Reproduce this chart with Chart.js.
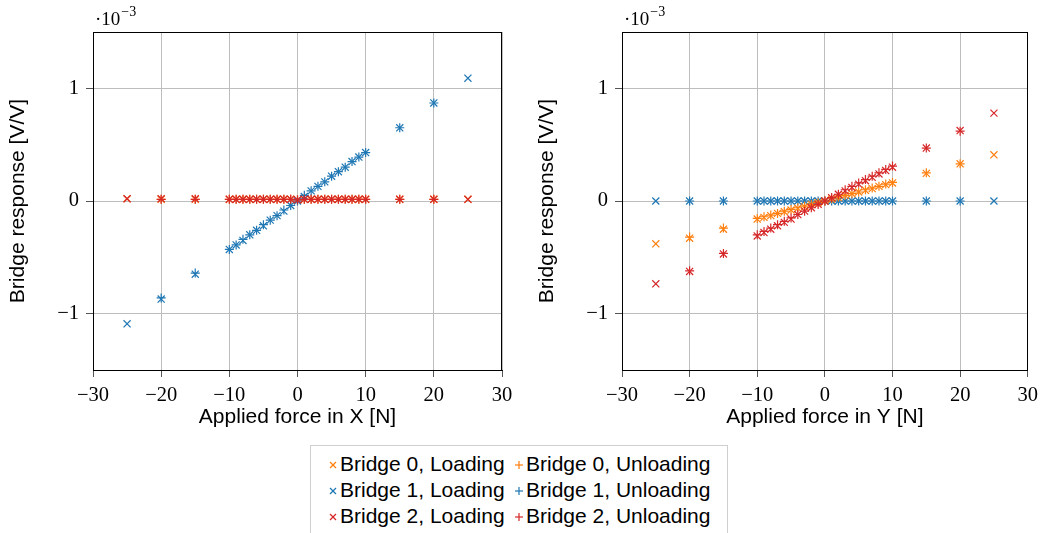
<!DOCTYPE html>
<html>
<head>
<meta charset="utf-8">
<script src="https://cdn.jsdelivr.net/npm/chart.js@4"></script>
<style>
  body { margin: 0; background: #fff; width: 1044px; height: 533px; overflow: hidden; position: relative; }
  canvas { position: absolute; top: 0; }
  #legend {
    position: absolute; left: 310px; top: 445px; width: 418px; height: 100px;
    border: 1px solid #cfcfcf; box-sizing: border-box;
    font: 21px "Liberation Sans", Arial, sans-serif; color: #000;
  }
  .item { position: absolute; white-space: nowrap; line-height: 26px; }
  .item svg { position: absolute; top: 10px; }
  .item span { position: absolute; top: 0; }
</style>
</head>
<body>
<canvas id="chartX" width="522" height="430" style="left:0"></canvas>
<canvas id="chartY" width="522" height="430" style="left:522px"></canvas>
<div id="legend"></div>
<script>
// forces [N]
const forceLoad = [-25, -20, -15, -10, -9, -8, -7, -6, -5, -4, -3, -2, -1, 0, 1, 2, 3, 4, 5, 6, 7, 8, 9, 10, 15, 20, 25];
const forceUnload = [-20, -15, -10, -9, -8, -7, -6, -5, -4, -3, -2, -1, 0, 1, 2, 3, 4, 5, 6, 7, 8, 9, 10, 15, 20];

// force in X, bridge response in 1e-3 V/V
const b0LoadX = [0.02, 0.015, 0.015, 0.015, 0.015, 0.015, 0.015, 0.015, 0.015, 0.015, 0.015, 0.015, 0.015, 0.01, 0.015, 0.015, 0.015, 0.015, 0.015, 0.015, 0.015, 0.015, 0.015, 0.015, 0.015, 0.015, 0.015];
const b0UnloadX = [0.015, 0.015, 0.015, 0.015, 0.015, 0.015, 0.015, 0.015, 0.015, 0.015, 0.015, 0.015, 0.01, 0.015, 0.015, 0.015, 0.015, 0.015, 0.015, 0.015, 0.015, 0.015, 0.015, 0.015, 0.015];
const b1LoadX = [-1.09, -0.87, -0.65, -0.43, -0.39, -0.35, -0.30, -0.26, -0.22, -0.17, -0.13, -0.09, -0.04, 0.0, 0.04, 0.09, 0.13, 0.17, 0.22, 0.26, 0.30, 0.35, 0.39, 0.43, 0.65, 0.87, 1.09];
const b1UnloadX = [-0.86, -0.64, -0.43, -0.39, -0.34, -0.30, -0.26, -0.21, -0.17, -0.13, -0.08, -0.04, 0.0, 0.05, 0.09, 0.13, 0.17, 0.22, 0.26, 0.30, 0.35, 0.39, 0.43, 0.65, 0.87];
const b2LoadX = [0.02, 0.02, 0.02, 0.015, 0.015, 0.015, 0.015, 0.015, 0.015, 0.015, 0.015, 0.015, 0.015, 0.01, 0.015, 0.015, 0.015, 0.015, 0.015, 0.015, 0.015, 0.015, 0.015, 0.015, 0.015, 0.015, 0.015];
const b2UnloadX = [0.015, 0.015, 0.015, 0.015, 0.015, 0.015, 0.015, 0.015, 0.015, 0.015, 0.015, 0.015, 0.01, 0.015, 0.015, 0.015, 0.015, 0.015, 0.015, 0.015, 0.015, 0.015, 0.015, 0.015, 0.015];

// force in Y
const b0LoadY = [-0.38, -0.33, -0.25, -0.16, -0.145, -0.13, -0.11, -0.095, -0.08, -0.065, -0.05, -0.03, -0.015, 0.0, 0.015, 0.03, 0.05, 0.065, 0.08, 0.095, 0.11, 0.13, 0.145, 0.16, 0.245, 0.33, 0.41];
const b0UnloadY = [-0.32, -0.24, -0.155, -0.14, -0.125, -0.11, -0.09, -0.075, -0.06, -0.045, -0.03, -0.015, 0.0, 0.02, 0.035, 0.05, 0.065, 0.08, 0.1, 0.115, 0.13, 0.15, 0.165, 0.25, 0.33];
const b1LoadY = [0.0, 0.0, 0.0, 0.0, 0.0, 0.0, 0.0, 0.0, 0.0, 0.0, 0.0, 0.0, 0.0, 0.0, 0.0, 0.0, 0.0, 0.0, 0.0, 0.0, 0.0, 0.0, 0.0, 0.0, 0.0, 0.0, 0.0];
const b1UnloadY = [0.0, 0.0, 0.0, 0.0, 0.0, 0.0, 0.0, 0.0, 0.0, 0.0, 0.0, 0.0, 0.0, 0.0, 0.0, 0.0, 0.0, 0.0, 0.0, 0.0, 0.0, 0.0, 0.0, 0.0, 0.0];
const b2LoadY = [-0.735, -0.625, -0.47, -0.31, -0.28, -0.25, -0.22, -0.19, -0.16, -0.12, -0.09, -0.06, -0.03, 0.0, 0.03, 0.06, 0.09, 0.12, 0.15, 0.18, 0.21, 0.24, 0.27, 0.30, 0.47, 0.625, 0.78];
const b2UnloadY = [-0.62, -0.465, -0.30, -0.27, -0.24, -0.21, -0.18, -0.15, -0.12, -0.09, -0.06, -0.03, 0.0, 0.03, 0.06, 0.1, 0.13, 0.16, 0.19, 0.22, 0.25, 0.28, 0.31, 0.47, 0.62];

const xTicks = [-30, -20, -10, 0, 10, 20, 30];
const yTicks = [-1, 0, 1];

const orange = "#ff7f0e", blue = "#1f77b4", red = "#d62728";

function pts(xs, ys) {
    return xs.map((x, i) => ({ x: x, y: ys[i] }));
}

function series(label, color, xs, ys, loading) {
    return {
        label: label,
        data: pts(xs, ys),
        borderColor: color,
        backgroundColor: color,
        pointStyle: loading ? "crossRot" : "cross",
        pointRadius: loading ? 5 : 4.5,
        pointBorderWidth: 1.2
    };
}

function minus(v) {
    return v < 0 ? "\u2212" + Math.abs(v) : String(v);
}

// frame round the plot + the "·10^-3" factor
const framePlugin = {
    id: "frame",
    afterDraw(chart) {
        const { ctx, chartArea: a } = chart;
        ctx.save();
        ctx.strokeStyle = "#000";
        ctx.lineWidth = 1;
        ctx.strokeRect(Math.round(a.left) + 0.5, Math.round(a.top) + 0.5, Math.round(a.width) - 1, Math.round(a.height));
        ctx.fillStyle = "#000";
        ctx.textBaseline = "alphabetic";
        ctx.font = '19px "Liberation Serif", serif';
        ctx.fillText("\u00b710", a.left + 2, 25);
        const w = ctx.measureText("\u00b710").width;
        ctx.font = '14px "Liberation Serif", serif';
        ctx.fillText("\u22123", a.left + 2 + w + 1, 16);
        ctx.restore();
    }
};

function createScatter(id, xTitle, datasets, padLeft, padRight) {
    const serif = { family: '"Liberation Serif", serif', size: 20.5 };
    const sans = { family: '"Liberation Sans", Arial, sans-serif', size: 21 };
    return new Chart(document.getElementById(id), {
        type: "scatter",
        data: { datasets: datasets },
        options: {
            responsive: false,
            animation: false,
            layout: { padding: { top: 32, left: padLeft, right: padRight, bottom: 0 } },
            plugins: { legend: { display: false }, tooltip: { enabled: false } },
            scales: {
                x: {
                    min: -30, max: 30,
                    afterBuildTicks: s => { s.ticks = xTicks.map(v => ({ value: v })); },
                    afterFit: s => { s.height = 60; },
                    grid: { color: "#bdbdbd", tickColor: "#555", tickLength: 7 },
                    border: { color: "#000" },
                    ticks: { font: serif, color: "#000", padding: 6, maxRotation: 0, callback: v => minus(v) },
                    title: { display: true, text: xTitle, font: sans, color: "#000", padding: 0 }
                },
                y: {
                    min: -1.5, max: 1.5,
                    afterBuildTicks: s => { s.ticks = yTicks.map(v => ({ value: v })); },
                    afterFit: s => { s.width = 87; },
                    grid: { color: "#bdbdbd", tickColor: "#555", tickLength: 7 },
                    border: { color: "#000" },
                    ticks: { font: serif, color: "#000", padding: 7, callback: v => minus(v) },
                    title: { display: true, text: "Bridge response [V/V]", font: sans, color: "#000", padding: 0 }
                }
            }
        },
        plugins: [framePlugin]
    });
}

// red drawn on top, so it goes first
createScatter("chartX", "Applied force in X [N]", [
    series("Bridge 2, Unloading", red, forceUnload, b2UnloadX, false),
    series("Bridge 2, Loading", red, forceLoad, b2LoadX, true),
    series("Bridge 1, Unloading", blue, forceUnload, b1UnloadX, false),
    series("Bridge 1, Loading", blue, forceLoad, b1LoadX, true),
    series("Bridge 0, Unloading", orange, forceUnload, b0UnloadX, false),
    series("Bridge 0, Loading", orange, forceLoad, b0LoadX, true)
], 6, 20);

createScatter("chartY", "Applied force in Y [N]", [
    series("Bridge 2, Unloading", red, forceUnload, b2UnloadY, false),
    series("Bridge 2, Loading", red, forceLoad, b2LoadY, true),
    series("Bridge 0, Unloading", orange, forceUnload, b0UnloadY, false),
    series("Bridge 0, Loading", orange, forceLoad, b0LoadY, true),
    series("Bridge 1, Unloading", blue, forceUnload, b1UnloadY, false),
    series("Bridge 1, Loading", blue, forceLoad, b1LoadY, true)
], 13, 13);

// legend, two columns
const legendItems = [
    ["Bridge 0, Loading", orange, true], ["Bridge 0, Unloading", orange, false],
    ["Bridge 1, Loading", blue, true], ["Bridge 1, Unloading", blue, false],
    ["Bridge 2, Loading", red, true], ["Bridge 2, Unloading", red, false]
];
const legend = document.getElementById("legend");
legendItems.forEach((it, i) => {
    const col = i % 2, row = Math.floor(i / 2);
    const d = document.createElement("div");
    d.className = "item";
    d.style.left = (col ? 204 : 18) + "px";
    d.style.top = (5 + row * 26) + "px";
    const mark = it[2]
        ? '<line x1="1" y1="1" x2="7" y2="7"/><line x1="1" y1="7" x2="7" y2="1"/>'
        : '<line x1="0" y1="4" x2="8" y2="4"/><line x1="4" y1="0" x2="4" y2="8"/>';
    d.innerHTML = '<svg width="8" height="8" style="left:0" stroke="' + it[1] + '" stroke-width="1.2">' + mark + '</svg>' +
        '<span style="left:11px">' + it[0] + '</span>';
    legend.appendChild(d);
});
</script>
</body>
</html>
